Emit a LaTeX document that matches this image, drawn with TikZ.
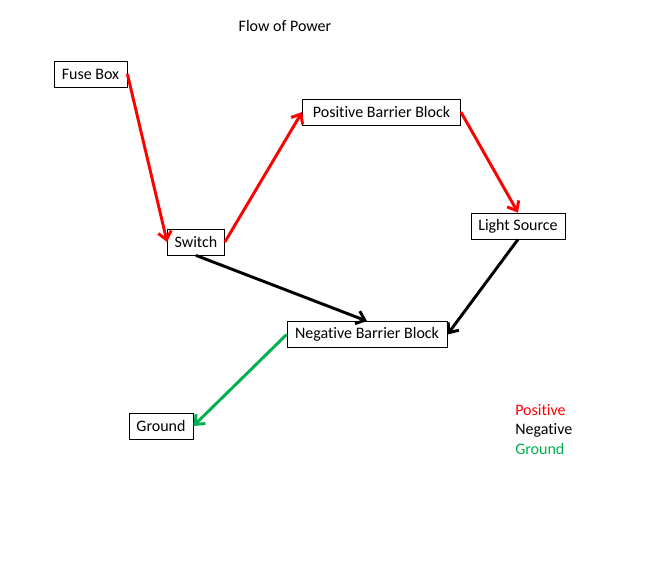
\documentclass[tikz,border=0pt]{standalone}
\usepackage{fontspec}
\setmainfont[Ligatures=NoCommon]{Carlito}
\usetikzlibrary{arrows.meta}
\definecolor{offgreen}{RGB}{0,176,80}
\definecolor{pred}{RGB}{255,0,0}
\tikzset{
  box/.style={draw=black, line width=0.6pt, fill=white, minimum height=19.5pt, inner xsep=4pt, inner ysep=0pt, font=\fontsize{12}{14}\selectfont},
  conn/.style={line width=2.2pt, -{Straight Barb[length=6pt,width=10pt,line width=2.2pt]}},
  legend/.style={font=\fontsize{12}{14}\selectfont, anchor=west, inner sep=0pt}
}
\begin{document}
\begin{tikzpicture}[x=0.75pt,y=-0.75pt]
\useasboundingbox (0,0) rectangle (664,568);
\node[font=\fontsize{12}{14}\selectfont] (title) at (285,26) {Flow of Power};
\node[box, minimum width=54.75pt] (fuse) at (90.5,74) {Fuse Box};
\node[box, minimum width=42.75pt] (switch) at (196,242) {Switch};
\node[box, minimum width=118.5pt] (pbb) at (381.5,112) {Positive Barrier Block};
\node[box, minimum width=70.5pt] (ls) at (518,226) {Light Source};
\node[box, minimum width=120pt] (nbb) at (367,334.5) {Negative Barrier Block};
\node[box, minimum width=48pt] (ground) at (161,426) {Ground};
\draw[conn, pred] (fuse.east) -- (switch.west);
\draw[conn, pred] (switch.east) -- (pbb.west);
\draw[conn, pred] (pbb.east) -- (ls.north);
\draw[conn, black] (switch.south) -- (nbb.north);
\draw[conn, black] (ls.south) -- (nbb.east);
\draw[conn, offgreen] (nbb.west) -- (ground.east);
\node[legend, text=pred] (lp) at (515,410) {Positive};
\node[legend, text=black] (ln) at (515,430) {Negative};
\node[legend, text=offgreen] (lg) at (515,449) {Ground};
\end{tikzpicture}
\end{document}
